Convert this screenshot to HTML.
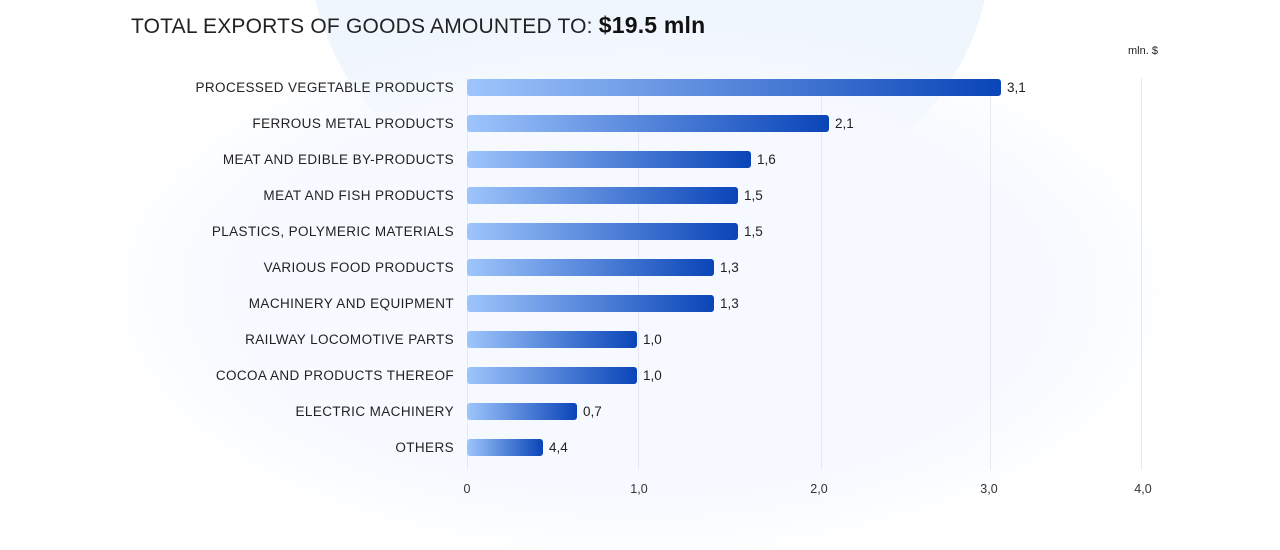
<!DOCTYPE html>
<html><head><meta charset="utf-8"><style>
html,body{margin:0;padding:0;width:1280px;height:500px;overflow:hidden;background:#fff;font-family:"Liberation Sans",sans-serif;}
.bg1{position:absolute;left:310px;top:-330px;width:680px;height:560px;border-radius:50%;background:#f0f6fe;}
.bg2{position:absolute;left:120px;top:30px;width:1040px;height:520px;border-radius:45%;background:radial-gradient(ellipse at center,#f6f9ff 55%,rgba(246,249,255,0) 75%);}
.title{position:absolute;left:131px;top:12px;font-size:21px;color:#222;letter-spacing:0.2px;}
.title b{font-size:23px;color:#111;}
.unit{position:absolute;left:1128px;top:45px;font-size:11px;color:#222;}
.grid{position:absolute;top:78px;height:392px;width:1px;background:#e6eaf0;}
.lbl{position:absolute;right:826px;font-size:13.5px;color:#222;letter-spacing:0.4px;white-space:nowrap;margin-top:1px;}
.bar{position:absolute;left:467px;height:17px;border-radius:3px;background:linear-gradient(90deg,#9ec5fb,#0a45b8);}
.val{position:absolute;font-size:13.5px;color:#222;margin-top:1px;}
.tick{position:absolute;top:482px;font-size:12.5px;color:#333;transform:translateX(-50%);}
</style></head><body>
<div class="bg1"></div><div class="bg2"></div>
<div class="title">TOTAL EXPORTS OF GOODS AMOUNTED TO: <b>$19.5 mln</b></div>
<div class="unit">mln. $</div>
<div class="grid" style="left:467px"></div>
<div class="grid" style="left:638px"></div>
<div class="grid" style="left:821px"></div>
<div class="grid" style="left:990px"></div>
<div class="grid" style="left:1141px"></div>

<div class="lbl" style="top:79px">PROCESSED VEGETABLE PRODUCTS</div><div class="bar" style="top:79px;width:534px"></div><div class="val" style="top:79px;left:1007px">3,1</div>
<div class="lbl" style="top:115px">FERROUS METAL PRODUCTS</div><div class="bar" style="top:115px;width:362px"></div><div class="val" style="top:115px;left:835px">2,1</div>
<div class="lbl" style="top:151px">MEAT AND EDIBLE BY-PRODUCTS</div><div class="bar" style="top:151px;width:284px"></div><div class="val" style="top:151px;left:757px">1,6</div>
<div class="lbl" style="top:187px">MEAT AND FISH PRODUCTS</div><div class="bar" style="top:187px;width:271px"></div><div class="val" style="top:187px;left:744px">1,5</div>
<div class="lbl" style="top:223px">PLASTICS, POLYMERIC MATERIALS</div><div class="bar" style="top:223px;width:271px"></div><div class="val" style="top:223px;left:744px">1,5</div>
<div class="lbl" style="top:259px">VARIOUS FOOD PRODUCTS</div><div class="bar" style="top:259px;width:247px"></div><div class="val" style="top:259px;left:720px">1,3</div>
<div class="lbl" style="top:295px">MACHINERY AND EQUIPMENT</div><div class="bar" style="top:295px;width:247px"></div><div class="val" style="top:295px;left:720px">1,3</div>
<div class="lbl" style="top:331px">RAILWAY LOCOMOTIVE PARTS</div><div class="bar" style="top:331px;width:170px"></div><div class="val" style="top:331px;left:643px">1,0</div>
<div class="lbl" style="top:367px">COCOA AND PRODUCTS THEREOF</div><div class="bar" style="top:367px;width:170px"></div><div class="val" style="top:367px;left:643px">1,0</div>
<div class="lbl" style="top:403px">ELECTRIC MACHINERY</div><div class="bar" style="top:403px;width:110px"></div><div class="val" style="top:403px;left:583px">0,7</div>
<div class="lbl" style="top:439px">OTHERS</div><div class="bar" style="top:439px;width:76px"></div><div class="val" style="top:439px;left:549px">4,4</div>

<div class="tick" style="left:467px">0</div>
<div class="tick" style="left:639px">1,0</div>
<div class="tick" style="left:819px">2,0</div>
<div class="tick" style="left:989px">3,0</div>
<div class="tick" style="left:1143px">4,0</div>
</body></html>
